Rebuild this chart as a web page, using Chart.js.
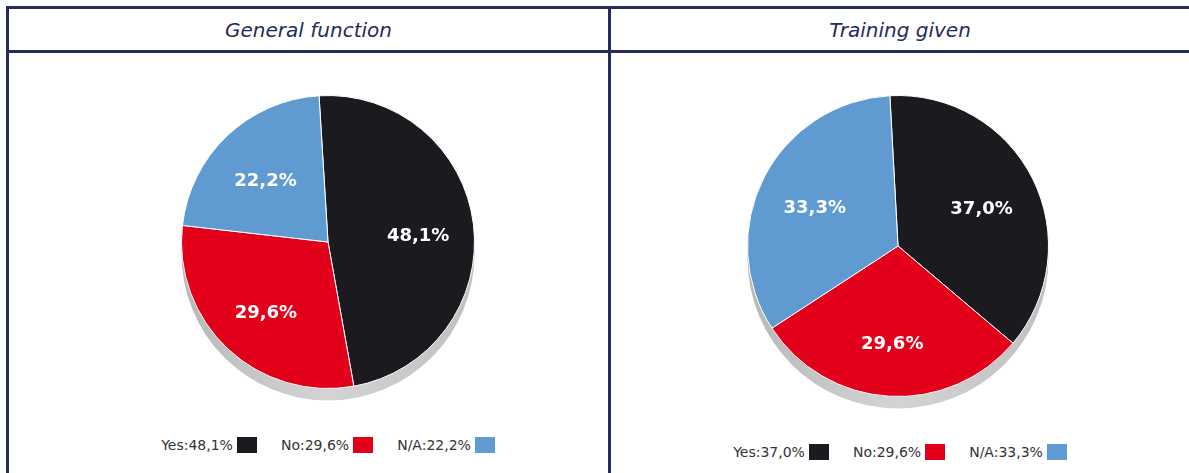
<!DOCTYPE html>
<html>
<head>
<meta charset="utf-8">
<script src="https://cdn.jsdelivr.net/npm/chart.js@4"></script>
<style>
  html, body { margin: 0; padding: 0; background: #fff; }
  body { width: 1189px; height: 473px; position: relative; overflow: hidden; font-family: "DejaVu Sans", Verdana, sans-serif; }
  .line { position: absolute; background: #262a5e; }
  .title { position: absolute; top: 9px; height: 41px; line-height: 43px; text-align: center; font-style: italic; font-size: 20px; color: #262a5e; }
  .wrap { position: absolute; }
  .legend { position: absolute; display: flex; justify-content: center; align-items: center; font-size: 14px; color: #333; white-space: nowrap; }
  .legend .item { display: flex; align-items: center; margin: 0 12px; }
  .legend .box { width: 20px; height: 16px; margin-left: 4px; }
</style>
</head>
<body>
<div class="line" style="left:6px; top:6px; width:1183px; height:3px;"></div>
<div class="line" style="left:6px; top:50px; width:1183px; height:3px;"></div>
<div class="line" style="left:6px; top:6px; width:3px; height:467px;"></div>
<div class="line" style="left:608px; top:6px; width:3px; height:467px;"></div>

<div class="title" id="t1" style="left:9px; width:599px;"></div>
<div class="title" id="t2" style="left:611px; width:578px;"></div>

<div class="wrap" style="left:28px; top:82px; width:600px; height:320px;"><canvas id="c1"></canvas></div>
<div class="wrap" style="left:598px; top:81px; width:600px; height:330px;"><canvas id="c2"></canvas></div>

<div class="legend" id="l1" style="left:28px; width:600px; top:436px; height:18px;"></div>
<div class="legend" id="l2" style="left:598px; width:604px; top:443px; height:18px;"></div>

<script>
const titles = ["General function", "Training given"];
const categories = ["Yes", "No", "N/A"];
const generalFunction = [48.1, 29.6, 22.2];
const trainingGiven = [37.0, 29.6, 33.3];
const colors = ["#1b1a1f", "#e2001a", "#5f9bd0"];

function fmt(v) { return v.toFixed(1).replace('.', ',') + '%'; }

document.getElementById('t1').textContent = titles[0];
document.getElementById('t2').textContent = titles[1];

function buildLegend(id, values) {
  const el = document.getElementById(id);
  categories.forEach((c, i) => {
    const it = document.createElement('div');
    it.className = 'item';
    const t = document.createElement('span');
    t.textContent = c + ':' + fmt(values[i]);
    const b = document.createElement('span');
    b.className = 'box';
    b.style.background = colors[i];
    it.appendChild(t); it.appendChild(b);
    el.appendChild(it);
  });
}
buildLegend('l1', generalFunction);
buildLegend('l2', trainingGiven);

const shadowPlugin = {
  id: 'shadow3d',
  beforeDatasetsDraw(chart) {
    const meta = chart.getDatasetMeta(0);
    const a = meta.data[0];
    if (!a) return;
    const ctx = chart.ctx;
    const r = a.outerRadius;
    const off = 12;
    ctx.save();
    const g = ctx.createLinearGradient(a.x - r, 0, a.x + r, 0);
    g.addColorStop(0, '#b8b8b8');
    g.addColorStop(0.5, '#d4d4d4');
    g.addColorStop(1, '#c0c0c0');
    ctx.fillStyle = g;
    ctx.beginPath();
    ctx.arc(a.x, a.y + off, r, 0, Math.PI * 2);
    ctx.fill();
    ctx.restore();
  }
};

const labelPlugin = {
  id: 'sliceLabels',
  afterDatasetsDraw(chart) {
    const meta = chart.getDatasetMeta(0);
    const ctx = chart.ctx;
    const vals = chart.data.datasets[0].data;
    ctx.save();
    ctx.fillStyle = '#ffffff';
    ctx.font = 'bold 18px "DejaVu Sans", Verdana, sans-serif';
    ctx.textAlign = 'center';
    ctx.textBaseline = 'middle';
    meta.data.forEach((a, i) => {
      const mid = (a.startAngle + a.endAngle) / 2;
      const d = a.outerRadius * 0.62;
      ctx.fillText(fmt(vals[i]), a.x + Math.cos(mid) * d, a.y + Math.sin(mid) * d + 5);
    });
    ctx.restore();
  }
};

function makePie(id, values, rotation, pad) {
  new Chart(document.getElementById(id), {
    type: 'pie',
    data: {
      labels: categories,
      datasets: [{ data: values, backgroundColor: colors, borderColor: '#ffffff', borderWidth: 1 }]
    },
    options: {
      responsive: true,
      maintainAspectRatio: false,
      animation: false,
      rotation: rotation,
      layout: { padding: pad },
      plugins: { legend: { display: false }, tooltip: { enabled: false } }
    },
    plugins: [shadowPlugin, labelPlugin]
  });
}
makePie('c1', generalFunction, -3.5, { top: 13, bottom: 13 });
makePie('c2', trainingGiven, -3.1, { top: 14, bottom: 14 });
</script>
</body>
</html>
